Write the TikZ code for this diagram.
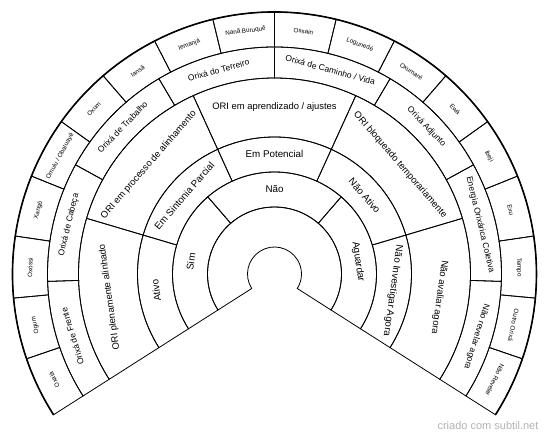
\documentclass[tikz,border=0pt]{standalone}
\usepackage{fontspec}
\setmainfont{Liberation Sans}
\begin{document}
\begin{tikzpicture}[x=1pt, y=1pt, line width=0.8pt,
    every node/.style={inner sep=0pt},
    lbl/.style={font=\fontsize{9.8}{10}\selectfont},
    lblori/.style={font=\fontsize{9.4}{10}\selectfont},
    lblorixa/.style={font=\fontsize{8.5}{9}\selectfont},
    lblsmall/.style={font=\fontsize{6.3}{7}\selectfont}]
  \useasboundingbox (-274.5,-164) rectangle (275.5,274);
  % rings: inner radius / outer radius / number of sectors
  \foreach \ra/\rb/\n in {27/67/1, 67/102/3, 102/137/5, 137/196/5, 196/227/8, 227/262/18}
    \foreach \k in {1,...,\n} {
      \pgfmathsetmacro\a{212.5-245*(\k-1)/\n}
      \pgfmathsetmacro\b{212.5-245*\k/\n}
      \draw (\a:\ra pt) arc[start angle=\a, end angle=\b, radius=\ra pt]
        -- (\b:\rb pt) arc[start angle=\b, end angle=\a, radius=\rb pt] -- cycle;
    }
  \draw[line width=1.6pt] (212.5:262pt) arc[start angle=212.5, end angle=-32.5, radius=262pt];
  % labels, ring by ring
  \foreach \lab [count=\k from 0] in {Sim, Não, Aguardar}
    \node[lbl, rotate=81.67-81.67*\k] (resp\k) at (171.67-81.67*\k:84.5pt) {\lab};
  \foreach \lab [count=\k from 0] in {Ativo, Em Sintonia Parcial, Em Potencial, Não Ativo, Não Investigar Agora}
    \node[lbl, rotate=98-49*\k] (estado\k) at (188-49*\k:119.5pt) {\lab};
  \foreach \lab [count=\k from 0] in {ORI plenamente alinhado, ORI em processo de alinhamento,
      ORI em aprendizado / ajustes, ORI bloqueado temporariamente, Não avaliar agora}
    \node[lblori, rotate=98-49*\k] (ori\k) at (188-49*\k:166.5pt) {\lab};
  \foreach \lab [count=\k from 0] in {Orixá de Frente, Orixá de Cabeça, Orixá de Trabalho,
      Orixá do Terreiro, Orixá de Caminho / Vida, Orixá Adjunto, Energia Orixárica Coletiva,
      Não revelar agora}
    \node[lblorixa, rotate=107.19-30.625*\k] (tipo\k) at (197.19-30.625*\k:211.5pt) {\lab};
  \foreach \lab [count=\k from 0] in {Oxalá, Ogum, Oxóssi, Xangô, Omulu / Obaluayê, Oxum,
      Iansã, Iemanjá, Nanã Buruquê, Ossain, Logunedé, Oxumaré, Ewá, Ibeji, Exu, Tempo,
      Outro Orixá, Não Revelar}
    \node[lblsmall, rotate=115.69-13.611*\k] (orixa\k) at (205.69-13.611*\k:244.5pt) {\lab};
  \node[text=gray!60, font=\fontsize{11}{12}\selectfont] (credito) at (213.5,-152) {criado com subtil.net};
\end{tikzpicture}
\end{document}
